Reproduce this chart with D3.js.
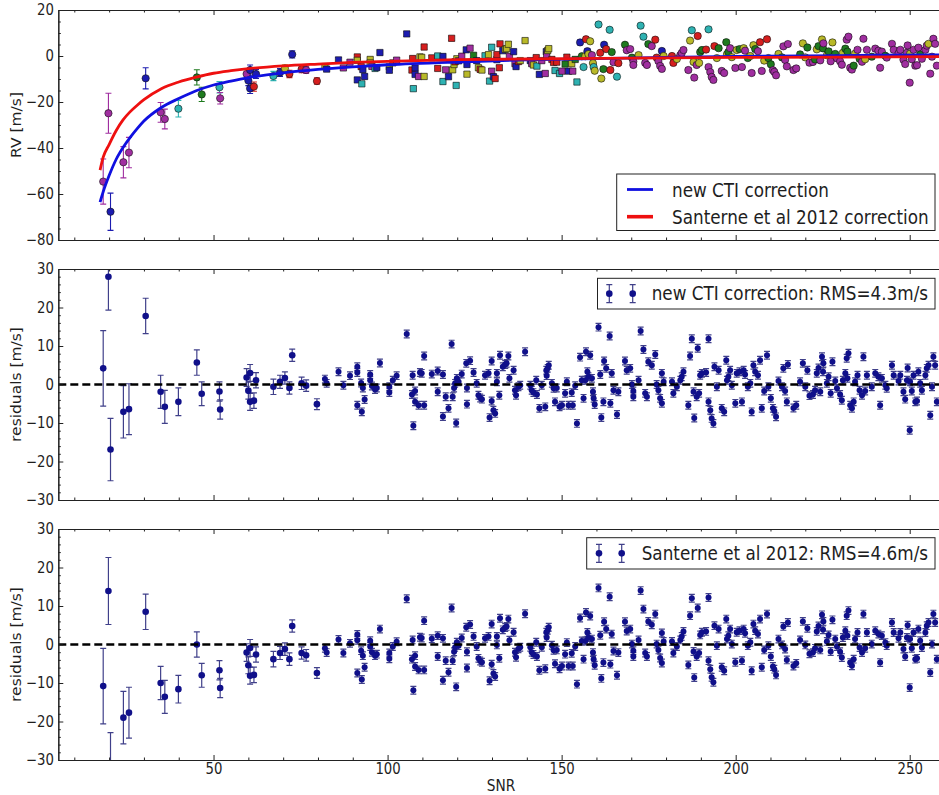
<!DOCTYPE html>
<html><head><meta charset="utf-8">
<script src="https://cdn.jsdelivr.net/npm/d3@7/dist/d3.min.js"></script>
<style>
html,body{margin:0;padding:0;background:#fff;}
svg{display:block;}
text{font-family:"DejaVu Sans",sans-serif;fill:#1e1e1e;}
.tick text{font-size:15px;}
</style></head><body>
<svg id="chart" width="939" height="795"></svg>
<script>
// ---------------- data ----------------
const curveSnr        = [17.4,18.3,20,22,24,26,28,30,35,40,45,50,55,60,70,80,90,100,120,140,160,180,200,230,260];
const ctiCurveRv      = [-63.5,-59,-52,-45,-39.8,-35.5,-31.7,-28.3,-22.4,-18.5,-15.1,-12.6,-10.9,-9.4,-7.3,-5.8,-4.7,-3.8,-2.6,-1.7,-1.1,-0.6,-0.2,0.2,0.5];
const santerneCurveRv = [-49.6,-44,-38.5,-32.5,-27.8,-24.3,-21.5,-19,-14.2,-11.3,-9.2,-7.5,-6.4,-5.5,-4.3,-3.5,-2.8,-2.3,-1.6,-1.3,-1.0,-0.8,-0.6,-0.45,-0.3];

// low-SNR measurements (visible error bars)
const lowSnr    = [18.3,19.8,20.4,24.1,25.7,30.5,34.8,36.0,39.9,45.2,46.6,51.7,51.9,59.5,60.0,60.5,60.5,61.6,62.2,67.2,69.1,70.5,71.8,72.6,75.3,76.6,79.7];
const lowRv     = [-54.6,-24.9,-67.7,-46.2,-42.0,-9.7,-24.5,-27.4,-22.9,-9.3,-16.7,-13.6,-18.4,-7.8,-10.7,-6.1,-14.1,-13.3,-7.8,-8.7,-7.2,-5.4,-7.8,0.7,-5.7,-6.1,-10.9];
const lowResCti = [4.2,28.0,-16.9,-7.1,-6.4,17.8,-1.9,-5.8,-4.5,5.7,-2.4,-1.8,-6.5,1.8,-1.6,3.0,-4.5,-4.2,1.1,-0.6,0.7,1.7,-0.9,7.6,0.3,-0.3,-5.1];
const lowResSan = [-10.8,13.9,-31.0,-19.0,-17.7,8.5,-10.0,-13.6,-11.6,0.0,-8.0,-6.7,-11.3,-2.1,-5.4,-0.9,-8.1,-7.9,-2.6,-3.8,-2.2,-1.2,-3.8,4.8,-2.2,-2.8,-7.4];
const lowErr    = [9.8,8.7,8.1,6.8,6.6,4.6,4.3,4.3,3.6,3.3,3.1,2.5,2.5,2.3,2.2,2.2,2.2,2.0,2.0,2.0,1.7,1.6,1.6,1.6,1.6,1.5,1.4];
const lowColor  = ["m","m","b","m","m","b","m","m","c","g","g","c","m","m","b","b","b","r","b","c","b","y","r","b","r","m","r"];

// high-SNR measurements
const highSnr = [82.0,82.5,85.9,87.3,89.2,91.3,91.3,91.3,92.4,92.6,92.9,93.4,95.0,95.0,95.5,96.4,96.9,97.8,100.5,100.5,
101.5,102.6,105.5,107.2,107.4,107.0,107.9,107.9,108.9,109.3,109.8,110.5,110.5,112.7,114.4,114.4,115.9,115.9,116.7,117.5,
118.4,118.7,119.1,119.4,119.7,119.9,120.4,121.3,122.6,122.8,122.8,123.7,124.7,125.6,126.1,126.6,127.1,128.0,129.0,129.3,
129.9,129.9,130.4,130.9,131.4,131.4,132.1,132.3,133.1,133.8,134.2,134.7,135.0,136.2,136.6,136.9,137.6,138.1,139.5,141.0,
141.4,141.9,142.7,142.9,143.6,144.3,145.3,145.6,145.7,146.0,146.3,147.2,147.7,148.1,148.6,149.4,150.1,151.0,151.5,152.0,
152.9,153.2,153.9,154.4,155.3,155.8,156.3,156.8,157.0,157.4,157.7,158.2,158.7,159.0,159.2,159.5,160.6,161.1,161.4,162.0,
162.2,162.8,163.8,164.0,164.4,164.9,165.9,166.3,
168.2,168.7,169.7,170.2,170.6,170.6,172.1,172.7,173.5,174.0,174.5,174.9,175.9,176.9,177.3,177.8,178.3,178.8,178.8,179.3,
181.7,182.1,183.1,184.1,184.5,185.0,186.4,186.9,187.4,187.9,188.1,188.8,189.1,189.5,189.8,190.3,191.5,192.2,192.2,192.7,
193.1,193.6,193.9,194.6,195.1,196.0,196.7,197.3,197.5,197.9,198.4,198.9,199.9,200.3,201.1,201.8,202.3,202.7,203.5,204.2,
204.6,205.1,205.6,206.4,207.0,207.5,208.2,209.0,209.4,210.1,210.7,211.1,211.6,212.3,213.3,213.7,214.2,214.7,215.0,216.6,
217.4,218.5,219.3,220.0,220.6,221.2,222.2,222.8,223.3,223.8,224.3,224.8,225.1,225.2,226.2,226.7,227.3,227.8,228.6,229.1,
230.0,230.5,230.8,231.5,231.9,232.1,232.4,232.9,233.4,233.9,234.3,235.0,235.6,236.3,236.7,237.2,237.7,239.1,240.1,241.0,
241.5,242.0,243.0,243.4,244.9,245.4,246.8,247.3,248.2,248.7,249.2,249.4,250.0,250.1,250.6,251.1,251.6,252.1,252.5,253.0,
253.5,254.5,254.9,255.4,255.9,256.4,256.8,257.3,257.8];

const highRv = [-4.6,-5.7,-1.7,-5.2,-2.7,-0.4,-1.9,-10.4,-4.6,-12.1,-5.9,-8.9,-1.5,-3.0,-4.5,-5.4,-5.0,1.5,-4.7,-6.2,
-3.0,-1.8,9.6,-1.1,-14.2,-6.1,-5.2,-8.0,-8.9,-0.4,-0.6,3.9,-8.9,-0.8,-5.4,0.0,-0.2,-11.1,-6.0,-9.0,
7.7,-6.0,-3.7,-2.5,-12.8,-1.2,-2.1,-0.1,2.7,-3.7,-7.9,3.4,0.3,-2.0,-5.1,-5.8,-6.1,0.1,0.6,-10.9,
3.8,-6.6,-9.0,-9.8,-1.6,0.6,-5.1,5.3,2.3,2.9,3.2,5.1,-0.2,1.9,-3.3,-4.6,-2.4,-2.0,6.7,-2.0,
-3.3,-3.9,-0.7,-4.4,-8.0,-2.0,-7.6,1.9,0.5,2.4,3.2,-1.5,-2.8,-6.3,-2.7,-7.6,-6.6,-3.5,-0.5,-6.6,
-3.3,-6.6,-1.5,-11.3,5.9,-0.1,-4.8,-0.1,7.3,2.1,0.8,6.4,0.4,-3.1,-4.8,-6.4,13.7,1.4,-9.8,-5.7,
4.9,3.0,11.4,-6.1,1.7,-2.7,-9.0,-3.1,
4.9,2.5,3.0,-0.7,-2.4,-3.9,0.4,13.2,8.4,-3.0,-3.9,5.2,4.3,7.1,-0.7,-2.2,-4.3,-5.6,2.2,0.0,
0.0,-3.0,-1.3,0.4,1.3,2.6,-6.1,6.7,11.2,-2.6,-9.4,-3.9,8.7,-3.0,1.7,2.6,2.8,11.6,-4.8,-7.0,
-9.1,-10.4,4.3,-0.9,3.4,-6.5,-7.4,6.0,0.8,1.7,3.4,-0.5,-5.2,2.6,3.0,-4.8,3.4,2.3,-0.9,0.0,
-7.4,4.7,3.0,2.1,6.0,-6.5,-2.0,7.3,-0.9,-3.6,-6.2,-6.9,-8.4,0.9,-0.6,4.2,-1.7,-4.5,5.2,-6.1,
-5.4,0.7,5.5,-0.6,3.7,-2.9,-2.6,-1.5,2.9,4.3,-1.9,7.2,3.3,5.5,0.3,2.0,-2.3,5.9,0.9,-1.0,
-2.3,-3.8,1.4,3.2,7.1,1.9,8.4,-5.1,-5.9,-4.2,1.0,2.7,-1.2,-2.5,7.5,-1.4,2.7,-0.3,3.2,2.3,
-5.1,1.9,0.1,-0.7,5.3,2.7,1.2,2.7,-1.6,-3.5,1.4,4.6,-11.6,1.0,-1.4,2.7,-4.2,-4.0,3.6,0.6,
-1.2,2.7,4.5,5.3,-7.7,-0.3,7.5,5.3,-4.2];

const highResCti = [1.4,0.3,3.3,-0.2,2.3,4.6,3.1,-5.4,0.4,-7.1,-0.9,-3.9,2.6,1.1,-0.4,-1.3,-0.9,5.6,-0.6,-2.1,
1.1,2.3,13.1,2.4,-10.7,-2.6,-1.7,-4.5,-5.4,3.1,2.9,7.4,-5.4,2.7,-1.9,3.5,2.6,-8.3,-3.2,-6.2,
10.5,-3.2,-0.9,0.3,-10.0,1.6,0.7,2.7,5.5,-0.9,-5.1,6.2,3.1,0.3,-2.8,-3.5,-3.8,2.4,2.9,-8.6,
6.1,-4.3,-6.7,-7.5,0.7,2.9,-2.8,7.6,4.6,5.2,5.5,7.4,1.6,3.7,-1.5,-2.8,-0.6,-0.2,8.5,-0.2,
-1.5,-2.1,1.1,-2.6,-6.2,-0.2,-5.8,3.7,2.3,4.2,5.0,0.3,-1.0,-4.5,-0.9,-5.8,-5.4,-2.3,0.7,-5.4,
-2.1,-5.4,-0.3,-10.1,7.1,1.1,-3.6,1.1,8.5,3.3,2.0,7.6,1.6,-1.9,-3.6,-5.2,14.9,2.6,-8.6,-4.5,
6.1,4.2,12.6,-4.9,2.9,-1.5,-7.8,-1.9,
6.1,3.7,4.2,0.0,-1.7,-3.2,1.1,13.9,9.1,-2.3,-3.2,5.9,5.0,7.8,0.0,-1.5,-3.6,-4.9,2.9,0.7,
0.7,-2.3,-0.6,1.1,2.0,3.3,-5.4,7.4,11.9,-1.9,-8.7,-3.2,9.4,-2.3,2.4,2.9,3.1,11.9,-4.5,-6.7,
-8.8,-10.1,4.6,-0.6,3.7,-6.2,-7.1,6.3,1.1,2.0,3.7,-0.2,-4.9,2.9,3.3,-4.5,3.7,2.6,-0.6,0.3,
-7.1,5.0,3.3,2.4,6.3,-6.2,-1.7,7.6,-0.6,-3.6,-6.2,-6.9,-8.4,0.9,-0.6,4.2,-1.7,-4.5,5.2,-6.1,
-5.4,0.7,5.5,-0.6,3.7,-2.9,-2.6,-1.5,2.9,4.3,-1.9,7.2,3.3,5.5,0.3,2.0,-2.3,5.9,0.9,-1.0,
-2.6,-4.1,1.1,2.9,6.8,1.6,8.1,-5.4,-6.2,-4.5,0.7,2.4,-1.5,-2.8,7.2,-1.7,2.4,-0.6,2.9,2.0,
-5.4,1.6,-0.2,-1.0,5.0,2.4,0.9,2.4,-1.9,-3.8,1.1,4.3,-11.9,0.7,-1.7,2.4,-4.5,-4.3,3.3,0.3,
-1.5,2.4,4.2,5.0,-8.0,-0.6,7.2,5.0,-4.5];

const highResSan = [-1.0,-2.1,1.3,-2.2,0.3,2.6,1.1,-7.4,-1.6,-9.1,-2.9,-5.9,1.0,-0.5,-2.0,-2.9,-2.5,4.0,-2.2,-3.7,
-0.5,0.7,11.9,1.2,-11.9,-3.8,-2.9,-5.7,-6.6,1.9,1.7,6.2,-6.6,1.5,-3.1,2.3,1.6,-9.3,-4.2,-7.2,
9.5,-4.2,-1.9,-0.7,-11.0,0.6,-0.3,1.7,4.5,-1.9,-6.1,5.2,2.1,-0.5,-3.6,-4.3,-4.6,1.6,2.1,-9.4,
5.3,-5.1,-7.5,-8.3,-0.1,2.1,-3.6,6.8,3.8,4.4,4.7,6.6,1.1,3.2,-2.0,-3.3,-1.1,-0.7,8.0,-0.7,
-2.0,-2.6,0.6,-3.1,-6.7,-0.7,-6.3,3.2,1.8,3.7,4.5,-0.2,-1.5,-5.0,-1.4,-6.3,-5.6,-2.5,0.5,-5.6,
-2.3,-5.6,-0.5,-10.3,6.9,0.9,-3.8,0.9,8.3,3.1,1.8,7.4,1.4,-2.1,-3.8,-5.4,14.7,2.4,-8.8,-4.7,
5.9,4.0,12.4,-5.1,2.7,-1.7,-8.0,-2.1,
5.9,3.5,4.0,0.1,-1.6,-3.1,1.2,14.0,9.2,-2.2,-3.1,6.0,5.1,7.9,0.1,-1.4,-3.5,-4.8,3.0,0.8,
0.8,-2.2,-0.5,1.2,2.1,3.4,-5.3,7.5,12.0,-1.8,-8.6,-3.1,9.5,-2.2,2.5,3.2,3.4,12.2,-4.2,-6.4,
-8.5,-9.8,4.9,-0.3,4.0,-5.9,-6.8,6.6,1.4,2.3,4.0,0.1,-4.6,3.2,3.6,-4.2,4.0,2.9,-0.3,0.6,
-6.8,5.3,3.6,2.7,6.6,-5.9,-1.4,7.9,-0.3,-3.1,-5.7,-6.4,-7.9,1.4,-0.1,4.7,-1.2,-4.0,5.7,-5.6,
-4.9,1.2,6.0,-0.1,4.2,-2.4,-2.1,-1.0,3.4,4.8,-1.4,7.7,3.8,6.0,0.8,2.5,-1.8,6.4,1.4,-0.5,
-1.9,-3.4,1.8,3.6,7.5,2.3,8.8,-4.7,-5.5,-3.8,1.4,3.1,-0.8,-2.1,7.9,-1.0,3.1,0.1,3.6,2.7,
-4.7,2.3,0.5,-0.3,5.7,3.1,1.6,3.1,-1.2,-3.1,1.8,5.0,-11.2,1.4,-1.0,3.1,-3.8,-3.6,4.0,1.0,
-0.8,3.1,4.9,5.7,-7.3,0.1,7.9,5.7,-3.8];

const highColor = ("ybbmmrybrc" + "bbyymcbbyb" + "rmbrcrbbmy" + "yryrrcbcmb" + "ryyrcybmbb" + "ymgbyrycyc" +
  "cmbrbrrrby" + "yymbmbryyb" + "myrcbmmbmy" + "yrrcrcmgrb" + "ymgcbgcyrb" + "yymycycryg" + "brcrgmcr" +
  "gmmgmmyccm" + "mgmrrmmmby" + "rrymmmmycy" + "mmryggrcmm" + "mmrygmmgyg" + "mymygmymgy" + "mygmrmyrgg" +
  "mmmygmmmmm" + "mgyygmmgyg" + "mygmygmygm" + "mmygmgmmmg" + "ymgmmymgmm" + "mmgmmmmmmm" + "mmmymmmmmg" +
  "mmmymmmmm").split("");
const highErr = 1.0;

const xMajorTicks = [50, 100, 150, 200, 250];
const xMinorTicks = [10,20,30,40,60,70,80,90,110,120,130,140,160,170,180,190,210,220,230,240];
const rvTicks = [20, 0, -20, -40, -60, -80];
const resTicks = [30, 20, 10, 0, -10, -20, -30];
const legendRvLabels = ["new CTI correction", "Santerne et al 2012 correction"];
const legendCtiLabel = "new CTI correction: RMS=4.3m/s";
const legendSanLabel = "Santerne et al 2012: RMS=4.6m/s";

// ---------------- drawing ----------------
const starColors = {b:"#1c1cb0", g:"#1e7a1e", r:"#d61e1e", c:"#2eb2b2", m:"#a02ea0", y:"#b9b928"};
const resColor = "#10108a", resErrColor = "#40408a";
const textScale = 0.885;

const points = [];
lowSnr.forEach((s, i) => points.push({snr:s, rv:lowRv[i], resCti:lowResCti[i], resSan:lowResSan[i], err:lowErr[i], c:lowColor[i], low:true}));
highSnr.forEach((s, i) => points.push({snr:s, rv:highRv[i], resCti:highResCti[i], resSan:highResSan[i], err:highErr, c:highColor[i], low:false}));

const svg = d3.select("#chart");
const defs = svg.append("defs");
const x = d3.scaleLinear().domain([5.4, 258.7]).range([58.3, 940]);
const [xl, xr] = x.range();

const panels = [
  {id:"rv",  top:10,  bottom:240, domain:[-80,20], ticks:rvTicks,  minor:d3.range(-80, 20.01, 5), label:"RV [m/s]",        key:"rv"},
  {id:"cti", top:269, bottom:500, domain:[-30,30], ticks:resTicks, minor:d3.range(-30, 30.01, 2), label:"residuals [m/s]", key:"resCti"},
  {id:"san", top:529, bottom:760, domain:[-30,30], ticks:resTicks, minor:d3.range(-30, 30.01, 2), label:"residuals [m/s]", key:"resSan"}
];

function errPath(cx, y1, y2, cap) {
  return `M${cx},${y1}V${y2}M${cx-cap},${y1}H${cx+cap}M${cx-cap},${y2}H${cx+cap}`;
}
function styleAxis(g) {
  g.attr("font-size", null).attr("font-family", null);
  g.select(".domain").attr("stroke", "#222").attr("stroke-width", 1.1);
  g.selectAll(".tick line").attr("stroke", "#222").attr("stroke-width", 1);
  g.selectAll(".tick text").attr("fill", "#1e1e1e").attr("transform", `scale(${textScale},1)`);
}

panels.forEach((p, pi) => {
  const y = d3.scaleLinear().domain(p.domain).range([p.bottom, p.top]);
  const clipId = "clip-" + p.id;
  defs.append("clipPath").attr("id", clipId).append("rect")
    .attr("x", xl).attr("y", p.top).attr("width", xr - xl).attr("height", p.bottom - p.top);
  const plot = svg.append("g").attr("clip-path", `url(#${clipId})`);

  if (p.id === "rv") {
    plot.append("g").selectAll("path").data(points).join("path")
      .attr("d", d => errPath(x(d.snr), y(d.rv - d.err), y(d.rv + d.err), 3))
      .attr("fill", "none").attr("stroke", d => starColors[d.c]).attr("stroke-width", 1.1);
    plot.append("g").selectAll("path").data(points).join("path")
      .attr("transform", d => `translate(${x(d.snr)},${y(d.rv)})`)
      .attr("d", d => d3.symbol().type(!d.low && d.snr < 155 ? d3.symbolSquare : d3.symbolCircle)
                       .size(!d.low && d.snr < 155 ? 40 : 42)())
      .attr("fill", d => starColors[d.c]).attr("stroke", "#111").attr("stroke-width", 0.6);
    const line = d3.line().x(d => x(d.s)).y(d => y(d.v)).curve(d3.curveMonotoneX);
    plot.append("path").datum(curveSnr.map((s, i) => ({s, v:ctiCurveRv[i]})))
      .attr("d", line).attr("fill", "none").attr("stroke", "#1010e0").attr("stroke-width", 2.8);
    plot.append("path").datum(curveSnr.map((s, i) => ({s, v:santerneCurveRv[i]})))
      .attr("d", line).attr("fill", "none").attr("stroke", "#ee1010").attr("stroke-width", 2.8);
  } else {
    plot.append("g").selectAll("path").data(points).join("path")
      .attr("d", d => errPath(x(d.snr), y(d[p.key] - d.err), y(d[p.key] + d.err), 3))
      .attr("fill", "none").attr("stroke", resErrColor).attr("stroke-width", 1.2);
    plot.append("g").selectAll("circle").data(points).join("circle")
      .attr("cx", d => x(d.snr)).attr("cy", d => y(d[p.key]))
      .attr("r", d => d.low ? 3.3 : 3.0).attr("fill", resColor);
    plot.append("line").attr("x1", xl).attr("x2", xr).attr("y1", y(0)).attr("y2", y(0))
      .attr("stroke", "#000").attr("stroke-width", 2.6).attr("stroke-dasharray", "8,4");
  }

  // axes (ticks inside, matplotlib classic)
  const isLast = pi === panels.length - 1;
  svg.append("g").attr("transform", `translate(0,${p.bottom})`)
    .call(d3.axisBottom(x).tickValues(xMajorTicks).tickSize(-5).tickSizeOuter(0).tickPadding(3.5)
      .tickFormat(isLast ? d3.format("d") : () => ""))
    .call(styleAxis);
  svg.append("g").attr("transform", `translate(0,${p.bottom})`)
    .call(d3.axisBottom(x).tickValues(xMinorTicks).tickSize(-2.5).tickSizeOuter(0).tickFormat(() => ""))
    .call(styleAxis);
  svg.append("g").attr("transform", `translate(0,${p.top})`)
    .call(d3.axisTop(x).tickValues(xMajorTicks).tickSize(-5).tickSizeOuter(0).tickFormat(() => ""))
    .call(styleAxis);
  svg.append("g").attr("transform", `translate(0,${p.top})`)
    .call(d3.axisTop(x).tickValues(xMinorTicks).tickSize(-2.5).tickSizeOuter(0).tickFormat(() => ""))
    .call(styleAxis);
  svg.append("g").attr("transform", `translate(${xl},0)`)
    .call(d3.axisLeft(y).tickValues(p.ticks).tickSize(-5).tickSizeOuter(0).tickPadding(5))
    .call(styleAxis);
  svg.append("g").attr("transform", `translate(${xl},0)`)
    .call(d3.axisLeft(y).tickValues(p.minor.filter(v => !p.ticks.includes(v))).tickSize(-2.5).tickSizeOuter(0).tickFormat(() => ""))
    .call(styleAxis);

  // y label
  svg.append("text")
    .attr("transform", `translate(21,${(p.top + p.bottom) / 2}) rotate(-90) scale(1,${textScale})`)
    .attr("text-anchor", "middle").attr("font-size", 15.5).text(p.label);

  // legends
  if (p.id === "rv") {
    const lg = svg.append("g");
    lg.append("rect").attr("x", 616.7).attr("y", 174).attr("width", 935 - 616.7).attr("height", 56.5)
      .attr("fill", "#fff").attr("stroke", "#222").attr("stroke-width", 1);
    lg.append("line").attr("x1", 627).attr("x2", 653).attr("y1", 189.5).attr("y2", 189.5)
      .attr("stroke", "#1010e0").attr("stroke-width", 2.8);
    lg.append("line").attr("x1", 627).attr("x2", 653).attr("y1", 216.7).attr("y2", 216.7)
      .attr("stroke", "#ee1010").attr("stroke-width", 3.6);
    lg.append("text").attr("transform", `translate(672,196.6) scale(${textScale},1)`).attr("font-size", 19).text(legendRvLabels[0]);
    lg.append("text").attr("transform", `translate(672,223.5) scale(${textScale},1)`).attr("font-size", 19).text(legendRvLabels[1]);
  } else {
    const cfg = p.id === "cti"
      ? {x0:597.5, y0:278.3, y1:309, m:[609.3, 632.7], tx:651.7, label:legendCtiLabel}
      : {x0:586.7, y0:537.7, y1:569, m:[599, 621.7], tx:641.7, label:legendSanLabel};
    const cy = (cfg.y0 + cfg.y1) / 2;
    const lg = svg.append("g");
    lg.append("rect").attr("x", cfg.x0).attr("y", cfg.y0).attr("width", 935 - cfg.x0).attr("height", cfg.y1 - cfg.y0)
      .attr("fill", "#fff").attr("stroke", "#222").attr("stroke-width", 1);
    cfg.m.forEach(mx => {
      lg.append("path").attr("d", errPath(mx, cy - 9, cy + 9, 3)).attr("fill", "none")
        .attr("stroke", resErrColor).attr("stroke-width", 1.2);
      lg.append("circle").attr("cx", mx).attr("cy", cy).attr("r", 3.3).attr("fill", resColor);
    });
    lg.append("text").attr("transform", `translate(${cfg.tx},${cy + 6.8}) scale(${textScale},1)`)
      .attr("font-size", 19).text(cfg.label);
  }
});

// x label
svg.append("text").attr("transform", `translate(501,791) scale(${textScale},1)`)
  .attr("text-anchor", "middle").attr("font-size", 15.5).text("SNR");
</script>
</body></html>
